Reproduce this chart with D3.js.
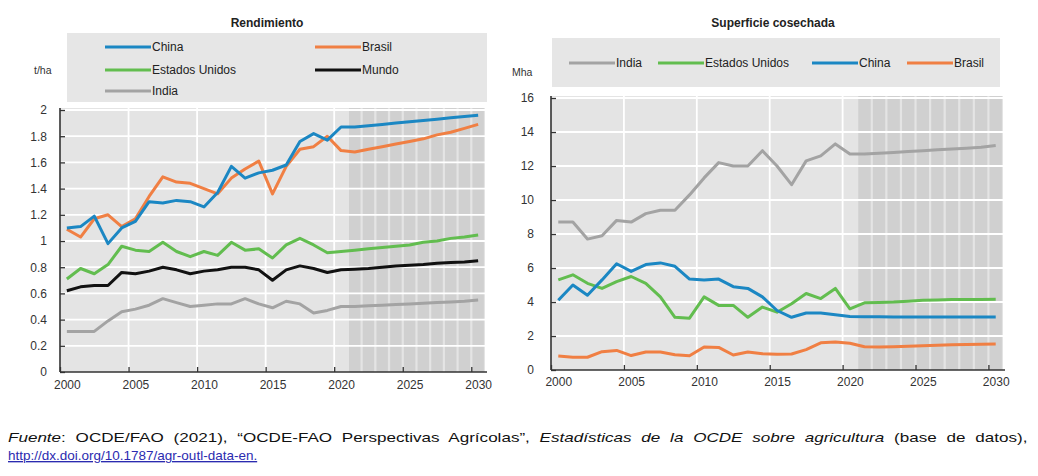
<!DOCTYPE html>
<html>
<head>
<meta charset="utf-8">
<script src="https://cdn.jsdelivr.net/npm/d3@7"></script>
<style>
  html, body { margin: 0; padding: 0; background: #ffffff; }
  svg { display: block; font-family: "Liberation Sans", Arial, sans-serif; }
</style>
</head>
<body>
<svg id="chart" width="1038" height="476"></svg>
<script>
// ---------- DATA ----------
const years = [2000,2001,2002,2003,2004,2005,2006,2007,2008,2009,2010,2011,2012,2013,2014,2015,
               2016,2017,2018,2019,2020,2021,2022,2023,2024,2025,2026,2027,2028,2029,2030];
const xTickYears = [2000,2005,2010,2015,2020,2025,2030];
const projectionYears = [2021,2022,2023,2024,2025,2026,2027,2028,2029,2030];

// Rendimiento (t/ha)
const yieldTicks = [0,0.2,0.4,0.6,0.8,1,1.2,1.4,1.6,1.8,2];
const yieldChina  = [1.10,1.11,1.19,0.98,1.10,1.15,1.30,1.29,1.31,1.30,1.26,1.37,1.57,1.48,1.52,1.54,1.58,1.76,1.82,1.77,1.87,1.87,1.88,1.89,1.90,1.91,1.92,1.93,1.94,1.95,1.96];
const yieldBrasil = [1.09,1.03,1.17,1.20,1.11,1.17,1.34,1.49,1.45,1.44,1.40,1.36,1.48,1.55,1.61,1.36,1.57,1.70,1.72,1.80,1.69,1.68,1.70,1.72,1.74,1.76,1.78,1.81,1.83,1.86,1.89];
const yieldUS     = [0.71,0.79,0.75,0.82,0.96,0.93,0.92,0.99,0.92,0.88,0.92,0.89,0.99,0.93,0.94,0.87,0.97,1.02,0.97,0.91,0.92,0.93,0.94,0.95,0.96,0.97,0.99,1.00,1.02,1.03,1.045];
const yieldMundo  = [0.62,0.65,0.66,0.66,0.76,0.75,0.77,0.80,0.78,0.75,0.77,0.78,0.80,0.80,0.78,0.70,0.78,0.81,0.79,0.76,0.78,0.785,0.79,0.80,0.81,0.815,0.82,0.83,0.835,0.84,0.85];
const yieldIndia  = [0.31,0.31,0.31,0.39,0.46,0.48,0.51,0.56,0.53,0.50,0.51,0.52,0.52,0.56,0.52,0.49,0.54,0.52,0.45,0.47,0.50,0.50,0.505,0.51,0.515,0.52,0.525,0.53,0.535,0.54,0.55];

// Superficie cosechada (Mha)
const areaTicks = [0,2,4,6,8,10,12,14,16];
const areaIndia  = [8.7,8.7,7.7,7.9,8.8,8.7,9.2,9.4,9.4,10.3,11.3,12.2,12.0,12.0,12.9,12.0,10.9,12.3,12.6,13.3,12.7,12.7,12.75,12.8,12.85,12.9,12.95,13.0,13.05,13.1,13.2];
const areaUS     = [5.3,5.6,5.1,4.8,5.2,5.5,5.1,4.3,3.1,3.05,4.3,3.8,3.8,3.1,3.7,3.4,3.9,4.5,4.2,4.8,3.6,3.95,3.97,4.0,4.05,4.1,4.12,4.14,4.15,4.15,4.16];
const areaChina  = [4.1,5.0,4.4,5.3,6.25,5.8,6.2,6.3,6.1,5.35,5.3,5.35,4.9,4.8,4.3,3.5,3.1,3.35,3.35,3.25,3.15,3.13,3.13,3.12,3.12,3.12,3.12,3.12,3.12,3.12,3.12];
const areaBrasil = [0.82,0.75,0.75,1.08,1.15,0.85,1.06,1.06,0.9,0.84,1.35,1.33,0.88,1.06,0.96,0.93,0.94,1.2,1.6,1.65,1.57,1.37,1.35,1.37,1.4,1.43,1.46,1.48,1.5,1.51,1.53];

const COLORS = { China: "#1b87c3", Brasil: "#f07f43", US: "#62bd4f", Mundo: "#111111", India: "#a3a3a3" };

// ---------- DRAW ----------
const svg = d3.select("#chart");

function panel(cfg) {
  const g = svg.append("g");
  const x = d3.scaleLinear().domain([years[0] - 0.5, years[years.length - 1] + 0.5]).range([cfg.x0, cfg.x1]);
  const y = d3.scaleLinear().domain([cfg.yTicks[0], cfg.yTicks[cfg.yTicks.length - 1]]).range([cfg.y0, cfg.y1]);

  // background
  g.append("rect").attr("x", cfg.x0).attr("y", cfg.y1 - 2).attr("width", cfg.x1 - cfg.x0)
    .attr("height", cfg.y0 - cfg.y1 + 2).attr("fill", "#e4e4e4");

  // projection shading: one band per projection year
  g.selectAll("rect.proj").data(projectionYears).enter().append("rect")
    .attr("class", "proj")
    .attr("x", d => x(d - 0.5) + 1.1)
    .attr("y", cfg.y1 - 2)
    .attr("width", d => x(d + 0.5) - x(d - 0.5) - 2.2)
    .attr("height", cfg.y0 - cfg.y1 + 2)
    .attr("fill", "#d0d0d0");

  // horizontal grid
  g.selectAll("line.hg").data(cfg.yTicks.slice(1)).enter().append("line")
    .attr("x1", cfg.x0).attr("x2", cfg.x1)
    .attr("y1", d => y(d)).attr("y2", d => y(d))
    .attr("stroke", "#ffffff").attr("stroke-width", 1.8);

  // vertical grid at 5-year boundaries in history
  g.selectAll("line.vg").data(xTickYears.slice(1, 5)).enter().append("line")
    .attr("x1", d => x(d - 0.5)).attr("x2", d => x(d - 0.5))
    .attr("y1", cfg.y1 - 2).attr("y2", cfg.y0)
    .attr("stroke", "#ffffff").attr("stroke-width", 1.8);

  // lines
  const line = d3.line().x((d, i) => x(years[i])).y(d => y(d));
  cfg.series.forEach(s => {
    g.append("path").datum(s.values).attr("d", line)
      .attr("fill", "none").attr("stroke", s.color).attr("stroke-width", 3)
      .attr("stroke-linejoin", "round");
  });

  // axes
  const yAxis = d3.axisLeft(y).tickValues(cfg.yTicks).tickSize(-5).tickPadding(cfg.yPad)
    .tickFormat(d => String(d));
  const ya = g.append("g").attr("transform", `translate(${cfg.x0},0)`).call(yAxis);
  ya.select(".domain").attr("d", `M0,${cfg.y1 - 2}V${cfg.y0}`);

  const xLabels = d3.axisBottom(x).tickValues(xTickYears).tickSize(0).tickPadding(cfg.xPad)
    .tickFormat(d3.format("d"));
  const xa = g.append("g").attr("transform", `translate(0,${cfg.y0})`).call(xLabels);
  xa.select(".domain").remove();

  const xMarks = d3.axisBottom(x).tickValues(xTickYears.map(d => d - 0.5)).tickSize(-5).tickFormat("");
  const xm = g.append("g").attr("transform", `translate(0,${cfg.y0})`).call(xMarks);
  xm.select(".domain").attr("d", `M${cfg.x0},0H${cfg.x1 + 2}`);

  [ya, xa, xm].forEach(a => {
    a.selectAll(".domain").attr("stroke", "#333").attr("stroke-width", 1.6);
    a.selectAll(".tick line").attr("stroke", "#333").attr("stroke-width", 1.3);
    a.selectAll("text").attr("fill", "#333").attr("font-size", 12)
      .attr("font-family", "\"Liberation Sans\", Arial, sans-serif");
  });

  // title
  svg.append("text").attr("x", cfg.titleX).attr("y", 27).attr("text-anchor", "middle")
    .attr("font-weight", "bold").attr("font-size", 12).attr("fill", "#222").text(cfg.title);

  // unit
  svg.append("text").attr("x", cfg.unitX).attr("y", cfg.unitY).attr("font-size", 10.5)
    .attr("fill", "#333").text(cfg.unit);

  // legend box
  svg.append("rect").attr("x", cfg.legend.x).attr("y", cfg.legend.y).attr("width", cfg.legend.w)
    .attr("height", cfg.legend.h).attr("fill", "#e6e6e6");
  cfg.legend.items.forEach(it => {
    svg.append("line").attr("x1", it.x).attr("x2", it.x + 46).attr("y1", it.y).attr("y2", it.y)
      .attr("stroke", it.color).attr("stroke-width", 3);
    svg.append("text").attr("x", it.x + 47).attr("y", it.y + 4).attr("font-size", 12)
      .attr("fill", "#222").text(it.label);
  });
}

panel({
  x0: 60, x1: 485, y0: 372, y1: 110,
  yTicks: yieldTicks, yPad: 13, xPad: 8,
  title: "Rendimiento", titleX: 267,
  unit: "t/ha", unitX: 34, unitY: 74,
  series: [
    { values: yieldIndia,  color: COLORS.India },
    { values: yieldMundo,  color: COLORS.Mundo },
    { values: yieldUS,     color: COLORS.US },
    { values: yieldBrasil, color: COLORS.Brasil },
    { values: yieldChina,  color: COLORS.China }
  ],
  legend: { x: 67, y: 33, w: 420, h: 69, items: [
    { x: 105, y: 47, color: COLORS.China,  label: "China" },
    { x: 315, y: 47, color: COLORS.Brasil, label: "Brasil" },
    { x: 105, y: 70, color: COLORS.US,     label: "Estados Unidos" },
    { x: 315, y: 70, color: COLORS.Mundo,  label: "Mundo" },
    { x: 105, y: 91, color: COLORS.India,  label: "India" }
  ]}
});

panel({
  x0: 551, x1: 1003, y0: 370, y1: 98,
  yTicks: areaTicks, yPad: 17, xPad: 7,
  title: "Superficie cosechada", titleX: 773,
  unit: "Mha", unitX: 512, unitY: 76,
  series: [
    { values: areaIndia,  color: COLORS.India },
    { values: areaBrasil, color: COLORS.Brasil },
    { values: areaUS,     color: COLORS.US },
    { values: areaChina,  color: COLORS.China }
  ],
  legend: { x: 552, y: 38, w: 448, h: 49, items: [
    { x: 569, y: 63, color: COLORS.India,  label: "India" },
    { x: 658, y: 63, color: COLORS.US,     label: "Estados Unidos" },
    { x: 812, y: 63, color: COLORS.China,  label: "China" },
    { x: 907, y: 63, color: COLORS.Brasil, label: "Brasil" }
  ]}
});

// ---------- SOURCE ----------
const srcFont = "\"Liberation Sans Narrow\", \"Arial Narrow\", \"Liberation Sans\", Arial, sans-serif";
const src = svg.append("text").attr("x", 0).attr("y", 0)
  .attr("font-family", srcFont).attr("font-size", 13.5).attr("fill", "#111")
  .attr("word-spacing", 4);
const srcParts = [
  { t: "Fuente", it: true },
  { t: ": OCDE/FAO (2021), “OCDE-FAO Perspectivas Agrícolas”, ", it: false },
  { t: "Estadísticas de la OCDE sobre agricultura", it: true },
  { t: " (base de datos),", it: false }
];
srcParts.forEach(p => src.append("tspan").attr("font-style", p.it ? "italic" : null).text(p.t));
// stretch the line so that it spans the full justified width
const natural = src.node().getBBox().width;
const sx = 1020 / natural;
src.attr("transform", `translate(8,442) scale(${sx},1)`);

svg.append("text").attr("x", 8).attr("y", 460)
  .attr("font-family", srcFont)
  .attr("font-size", 13.5).attr("fill", "#2b2bb0").attr("text-decoration", "underline")
  .text("http://dx.doi.org/10.1787/agr-outl-data-en.");
</script>
</body>
</html>
